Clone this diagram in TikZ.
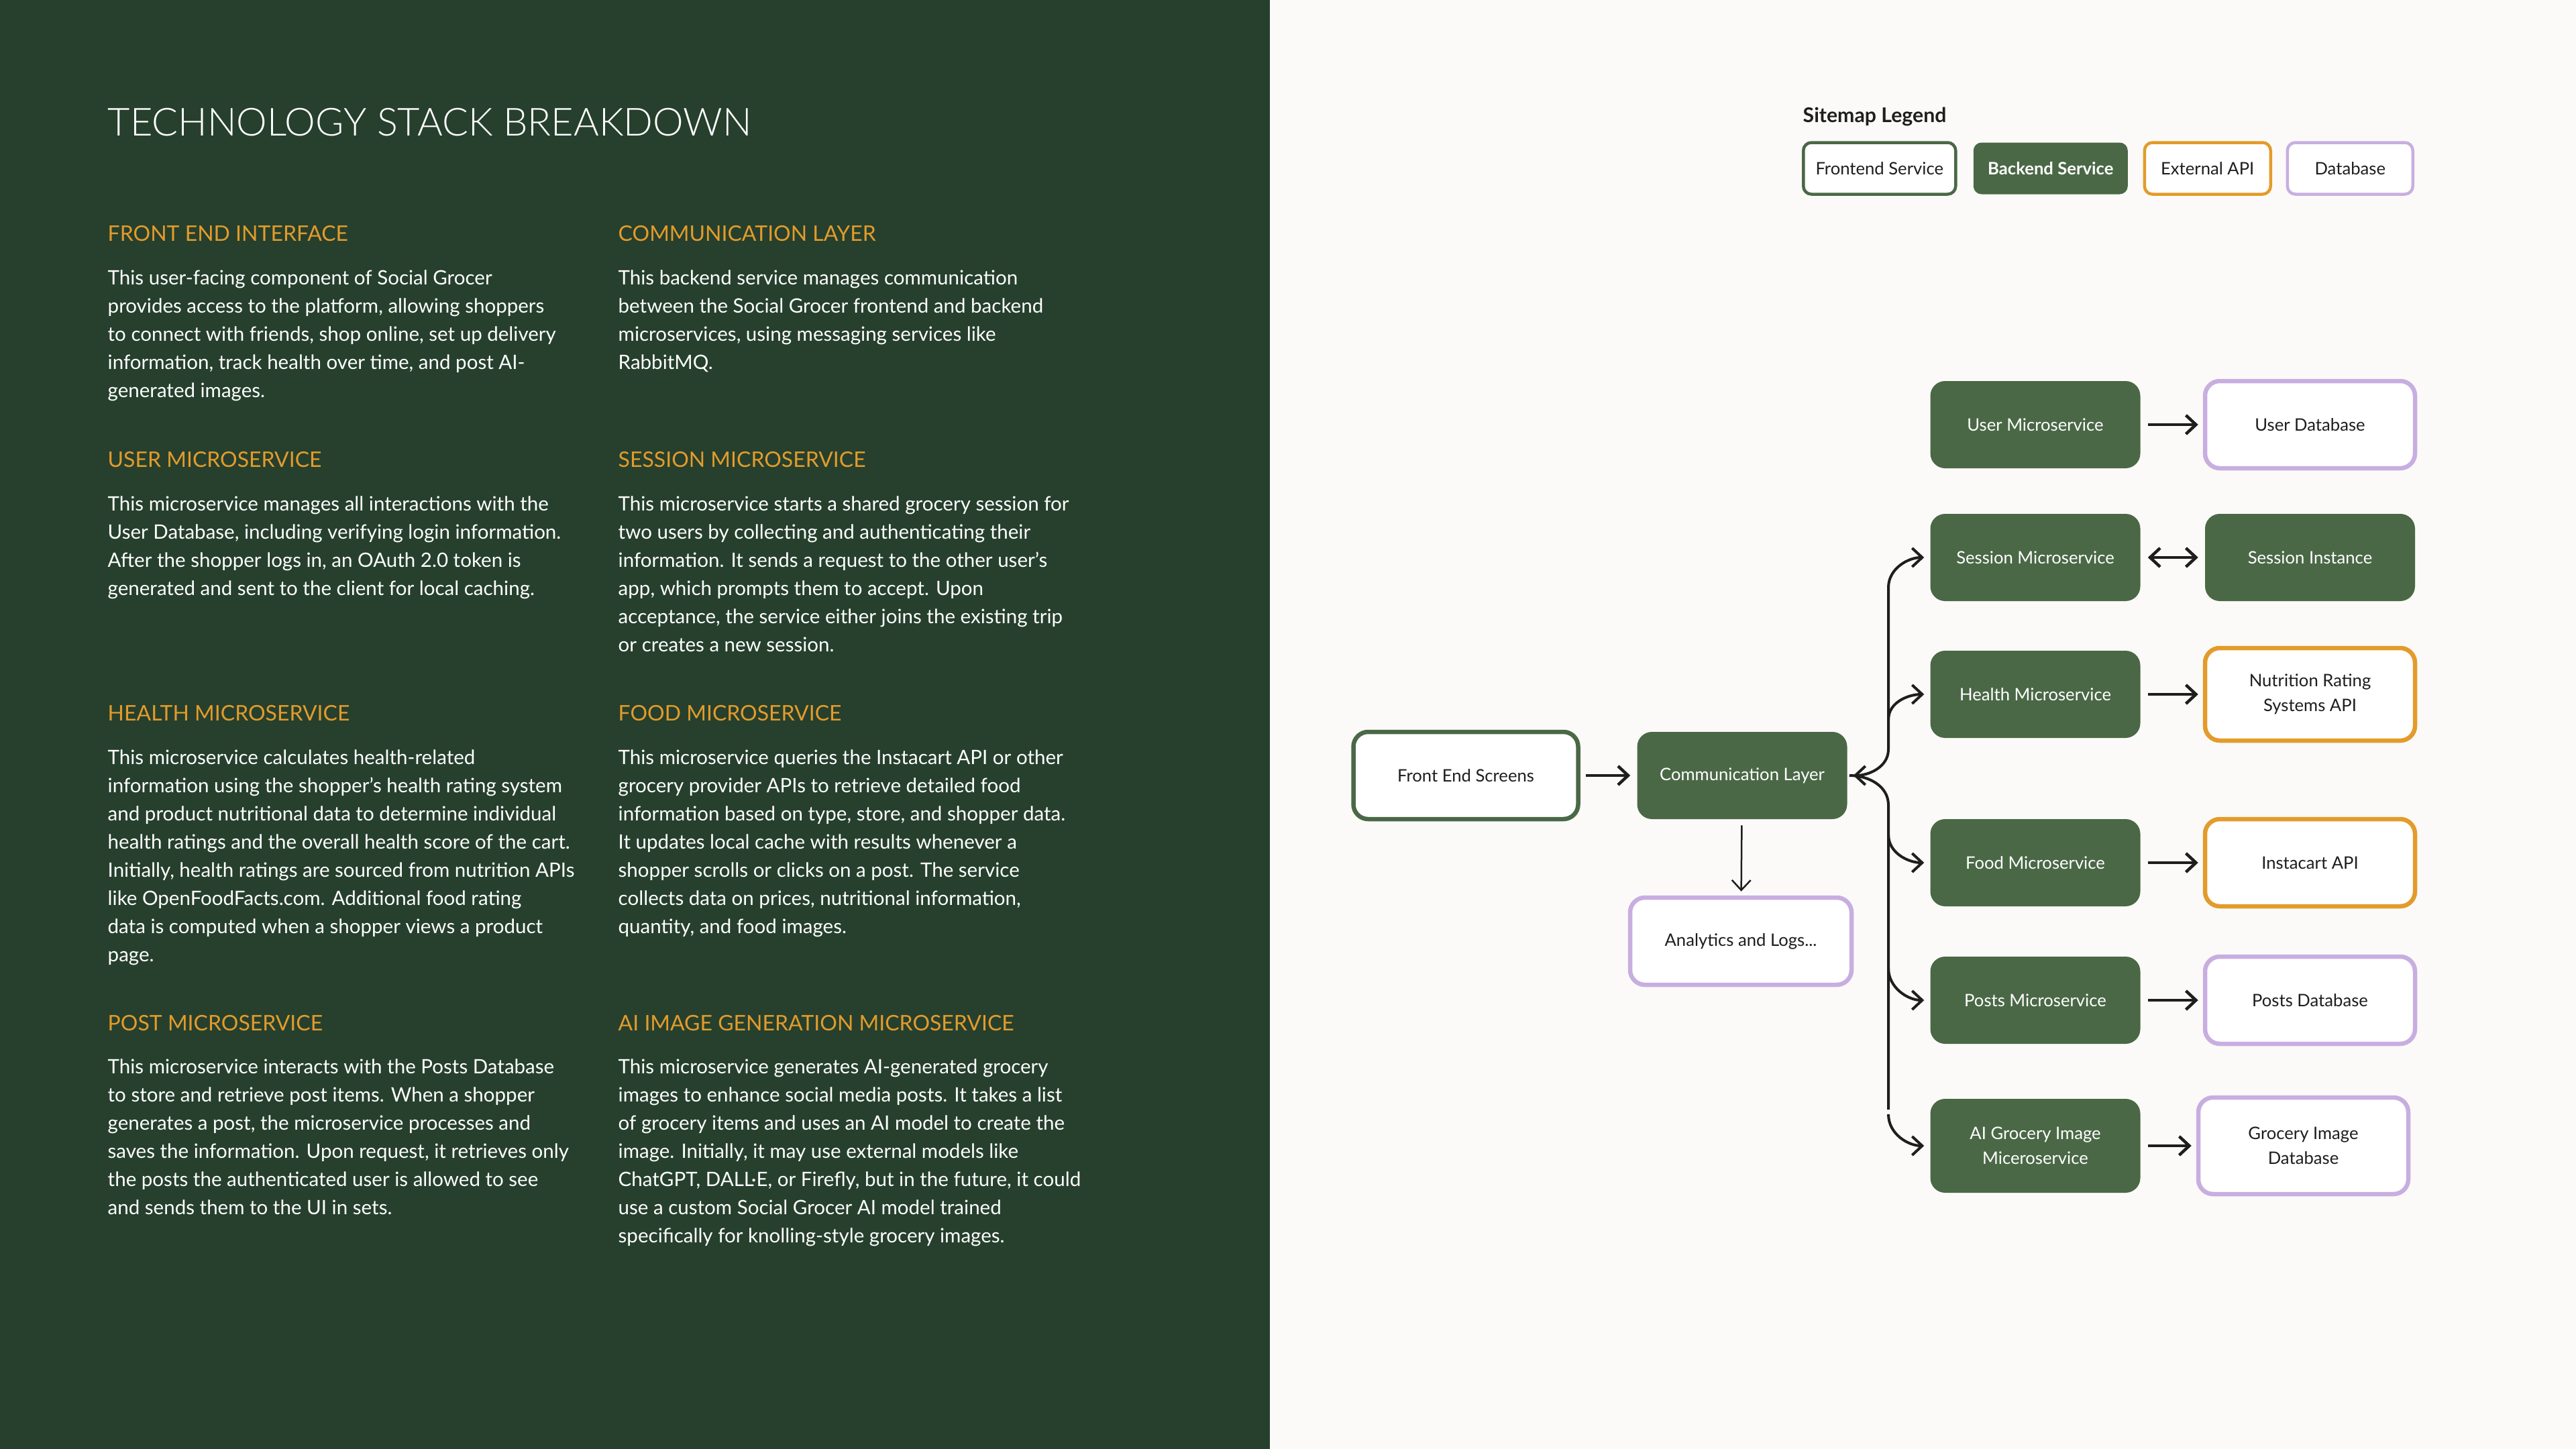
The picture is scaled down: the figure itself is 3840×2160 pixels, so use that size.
\documentclass[tikz,border=0pt]{standalone}
\usepackage{fontspec}
\setmainfont{Lato}
\newfontfamily\lightfont{Lato Light}
\usetikzlibrary{positioning,arrows.meta}

\definecolor{panelgreen}{HTML}{26402D}
\definecolor{servicegreen}{HTML}{4A6846}
\definecolor{apiorange}{HTML}{E39B2B}
\definecolor{dblilac}{HTML}{C8AEE0}
\definecolor{paper}{HTML}{FBFAF8}
\definecolor{inkdark}{HTML}{1E1E1E}

\tikzset{
  heading/.style={anchor=base west, inner sep=0pt, text=apiorange,
    font=\fontsize{9.1}{11}\selectfont},
  blurb/.style={anchor=north west, inner sep=0pt, text=white, align=left,
    font=\fontsize{8.4}{11.95}\selectfont},
  fillgreen/.style={fill=servicegreen, text=white},
  ringgreen/.style={draw=servicegreen, fill=white, text=inkdark},
  ringorange/.style={draw=apiorange, fill=white, text=inkdark},
  ringlilac/.style={draw=dblilac, fill=white, text=inkdark},
}

\begin{document}
\begin{tikzpicture}
    [
        x=0.1mm, y=-0.1mm,
        >={Straight Barb[length=1.5mm,width=2.8mm]},
        box/.style={rounded corners=2.2mm, minimum width=31.3mm,
            minimum height=13mm, align=center, line width=0.65mm,
            inner sep=1mm, font=\fontsize{7.3}{10.4}\selectfont},
        legendbox/.style={rounded corners=1.2mm, minimum height=7.7mm,
            line width=0.45mm, inner sep=0pt,
            font=\fontsize{7.3}{9}\selectfont},
        link/.style={->, line width=0.45mm, draw=inkdark,
            shorten <=0.8mm, shorten >=0.7mm},
        branch/.style={line width=0.4mm, draw=inkdark, shorten >=0.6mm}
    ]
    \useasboundingbox (0,0) rectangle (3840,2160);
    \fill[paper] (0,0) rectangle (3840,2160);
    \fill[panelgreen] (0,0) rectangle (1893,2160);

    % left panel
    \node[anchor=base west, inner sep=0pt, text=white,
        font=\lightfont\fontsize{16.4}{20}\selectfont] (title) at (160,202)
        {TECHNOLOGY STACK BREAKDOWN};

    \node[heading] (fehead) at (160,359) {FRONT END INTERFACE};
    \node[blurb] (fetext) at (160,402) {
        This user-facing component of Social Grocer \\
        provides access to the platform, allowing shoppers \\
        to connect with friends, shop online, set up delivery \\
        information, track health over time, and post AI- \\
        generated images.
    };
    \node[heading] (commhead) at (921,359) {COMMUNICATION LAYER};
    \node[blurb] (commtext) at (921,402) {
        This backend service manages communication \\
        between the Social Grocer frontend and backend \\
        microservices, using messaging services like \\
        RabbitMQ.
    };

    \node[heading] (userhead) at (160,696) {USER MICROSERVICE};
    \node[blurb] (usertext) at (160,739) {
        This microservice manages all interactions with the \\
        User Database, including verifying login information. \\
        After the shopper logs in, an OAuth 2.0 token is \\
        generated and sent to the client for local caching.
    };
    \node[heading] (sesshead) at (921,696) {SESSION MICROSERVICE};
    \node[blurb] (sesstext) at (921,739) {
        This microservice starts a shared grocery session for \\
        two users by collecting and authenticating their \\
        information. It sends a request to the other user's \\
        app, which prompts them to accept. Upon \\
        acceptance, the service either joins the existing trip \\
        or creates a new session.
    };

    \node[heading] (hlthhead) at (160,1074) {HEALTH MICROSERVICE};
    \node[blurb] (hlthtext) at (160,1117) {
        This microservice calculates health-related \\
        information using the shopper's health rating system \\
        and product nutritional data to determine individual \\
        health ratings and the overall health score of the cart. \\
        Initially, health ratings are sourced from nutrition APIs \\
        like OpenFoodFacts.com. Additional food rating \\
        data is computed when a shopper views a product \\
        page.
    };
    \node[heading] (foodhead) at (921,1074) {FOOD MICROSERVICE};
    \node[blurb] (foodtext) at (921,1117) {
        This microservice queries the Instacart API or other \\
        grocery provider APIs to retrieve detailed food \\
        information based on type, store, and shopper data. \\
        It updates local cache with results whenever a \\
        shopper scrolls or clicks on a post. The service \\
        collects data on prices, nutritional information, \\
        quantity, and food images.
    };

    \node[heading] (posthead) at (160,1536) {POST MICROSERVICE};
    \node[blurb] (posttext) at (160,1578) {
        This microservice interacts with the Posts Database \\
        to store and retrieve post items. When a shopper \\
        generates a post, the microservice processes and \\
        saves the information. Upon request, it retrieves only \\
        the posts the authenticated user is allowed to see \\
        and sends them to the UI in sets.
    };
    \node[heading] (aihead) at (921,1536) {AI IMAGE GENERATION MICROSERVICE};
    \node[blurb] (aitext) at (921,1578) {
        This microservice generates AI-generated grocery \\
        images to enhance social media posts. It takes a list \\
        of grocery items and uses an AI model to create the \\
        image. Initially, it may use external models like \\
        ChatGPT, DALL·E, or Firefly, but in the future, it could \\
        use a custom Social Grocer AI model trained \\
        specifically for knolling-style grocery images.
    };

    % legend
    \node[anchor=base west, inner sep=0pt, text=inkdark,
        font=\bfseries\fontsize{8.6}{9}\selectfont] (legendtitle) at (2687,182)
        {Sitemap Legend};
    \node[legendbox, ringgreen, minimum width=22.7mm, anchor=west] (legfront)
        at (2686,251) {Frontend Service};
    \node[legendbox, fillgreen, minimum width=23mm, right=2.2mm of legfront,
        font=\bfseries\fontsize{7.3}{9}\selectfont] (legback) {Backend Service};
    \node[legendbox, ringorange, minimum width=18.8mm, right=2.05mm of legback]
        (legapi) {External API};
    \node[legendbox, ringlilac, minimum width=18.7mm, right=2.05mm of legapi]
        (legdb) {Database};

    % sitemap
    \node[box, ringgreen, minimum width=33.5mm] (fescreens) at (2185,1156) {Front End Screens};
    \node[box, fillgreen] (commlayer) at (2597,1156) {Communication Layer};
    \node[box, ringlilac, minimum width=33mm] (analytics) at (2595,1403) {Analytics and Logs...};

    \node[box, fillgreen] (usrsvc) at (3034,633) {User Microservice};
    \node[box, ringlilac, right=9mm of usrsvc] (usrdb) {User Database};
    \node[box, fillgreen] (sesssvc) at (3034,831) {Session Microservice};
    \node[box, fillgreen, right=9mm of sesssvc] (sessinst) {Session Instance};
    \node[box, fillgreen] (hlthsvc) at (3034,1035) {Health Microservice};
    \node[box, ringorange, minimum height=13.8mm, right=9mm of hlthsvc] (nutrapi)
        {Nutrition Rating\\Systems API};
    \node[box, fillgreen] (foodsvc) at (3034,1286) {Food Microservice};
    \node[box, ringorange, right=9mm of foodsvc] (instaapi) {Instacart API};
    \node[box, fillgreen] (postsvc) at (3034,1491) {Posts Microservice};
    \node[box, ringlilac, right=9mm of postsvc] (postdb) {Posts Database};
    \node[box, fillgreen, minimum height=14mm] (aisvc) at (3034,1708)
        {AI Grocery Image\\Miceroservice};
    \node[box, ringlilac, minimum height=14.4mm, right=8mm of aisvc] (imgdb)
        {Grocery Image\\Database};

    \draw[link] (fescreens) -- (commlayer);
    \draw[link, line width=0.25mm, shorten <=0.6mm, shorten >=0.6mm] (commlayer) -- (analytics);
    \draw[link] (usrsvc) -- (usrdb);
    \draw[link, <->] (sesssvc) -- (sessinst);
    \draw[link] (hlthsvc) -- (nutrapi);
    \draw[link] (foodsvc) -- (instaapi);
    \draw[link] (postsvc) -- (postdb);
    \draw[link] (aisvc) -- (imgdb);

    % trunk to the microservices
    \coordinate (trunk) at (2815,1156);
    \coordinate (trunkup) at (2815,1117);
    \coordinate (trunkdown) at (2815,1200);
    \draw[branch, ->] (trunk |- sesssvc) ++(0,45) -- (trunkup)
        to[out=-90,in=0] (commlayer.east);
    \draw[branch] (commlayer.east) to[out=0,in=90] (trunkdown)
        -- ++(0,460);
    \draw[branch, ->] (trunk |- sesssvc) ++(0,45) to[out=90,in=180] (sesssvc.west);
    \draw[branch, ->] (trunk |- hlthsvc) ++(0,38) to[out=90,in=180] (hlthsvc.west);
    \draw[branch, ->] (trunk |- foodsvc) ++(0,-42) to[out=-90,in=180] (foodsvc.west);
    \draw[branch, ->] (trunk |- postsvc) ++(0,-48) to[out=-90,in=180] (postsvc.west);
    \draw[branch, ->] (trunk |- aisvc) ++(0,-47) to[out=-90,in=180] (aisvc.west);
\end{tikzpicture}
\end{document}
